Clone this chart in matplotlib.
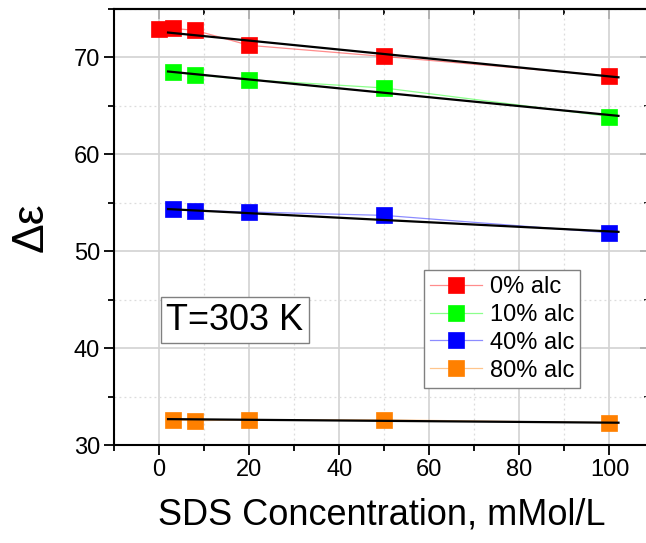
import matplotlib.pyplot as plt
from matplotlib.ticker import MultipleLocator

# =========================
# DATA
# =========================
sds_conc = [0, 3, 8, 20, 50, 100]

alc_0 = [72.9, 73.0, 72.8, 71.25, 70.1, 68.1]
alc_10 = [None, 68.5, 68.2, 67.7, 66.85, 63.9]
alc_40 = [None, 54.35, 54.2, 54.05, 53.7, 51.9]
alc_80 = [None, 32.6, 32.5, 32.6, 32.6, 32.3]

# linear fit lines (end points)
fit_x = [2, 102]
fit_0 = [72.57, 67.95]
fit_10 = [68.55, 63.97]
fit_40 = [54.35, 52.0]
fit_80 = [32.67, 32.3]

labels = ["0% alc", "10% alc", "40% alc", "80% alc"]
colors = ["#ff0000", "#00ff00", "#0000ff", "#ff8000"]

plt.rcParams['font.family'] = ['Liberation Sans', 'DejaVu Sans']

# =========================
# FIGURE
# =========================
fig = plt.figure(figsize=(6.46, 5.43), dpi=100)
ax = fig.add_axes([114 / 646, 98 / 543, 536 / 646, 436 / 543])

series = [alc_0, alc_10, alc_40, alc_80]
fits = [fit_0, fit_10, fit_40, fit_80]

for vals, fit, lab, col in zip(series, fits, labels, colors):
    xs = [x for x, v in zip(sds_conc, vals) if v is not None]
    ys = [v for v in vals if v is not None]
    rgb = plt.matplotlib.colors.to_rgb(col)
    ax.plot(xs, ys, color=rgb + (0.45,), lw=0.9, marker='s', markersize=11.3,
            markerfacecolor=col, markeredgecolor=col, markeredgewidth=0.5,
            label=lab, zorder=3)
    ax.plot(fit_x, fit, color='black', lw=1.6, zorder=4)

ax.set_xlim(-10, 109)
ax.set_ylim(30, 75)

ax.xaxis.set_major_locator(MultipleLocator(20))
ax.xaxis.set_minor_locator(MultipleLocator(10))
ax.yaxis.set_major_locator(MultipleLocator(10))
ax.yaxis.set_minor_locator(MultipleLocator(5))

ax.grid(True, which='major', color='#d2d2d2', lw=1.2, zorder=0)
ax.grid(True, which='minor', color='#dcdcdc', lw=0.9, ls=(0, (1.5, 2.5)), zorder=0)
ax.set_axisbelow(True)

for sp in ax.spines.values():
    sp.set_linewidth(1.5)

ax.tick_params(which='both', direction='out', top=False, right=False,
               width=1.3, labelsize=17, pad=3)
ax.tick_params(which='major', length=7)
ax.tick_params(which='minor', length=4)

# inward ticks on top and right
ax2 = ax.secondary_xaxis('top')
ax2.xaxis.set_major_locator(MultipleLocator(20))
ax2.xaxis.set_minor_locator(MultipleLocator(10))
ax2.tick_params(which='both', direction='in', width=1.3, labeltop=False)
ax2.tick_params(which='major', length=7)
ax2.tick_params(which='minor', length=4)
ax2.spines['top'].set_linewidth(1.5)

ax3 = ax.secondary_yaxis('right')
ax3.yaxis.set_major_locator(MultipleLocator(10))
ax3.yaxis.set_minor_locator(MultipleLocator(5))
ax3.tick_params(which='both', direction='in', width=1.3, labelright=False)
ax3.tick_params(which='major', length=7)
ax3.tick_params(which='minor', length=4)

ax.set_xlabel("SDS Concentration, mMol/L", fontsize=26, labelpad=12)
ax.set_ylabel("\u0394\u03b5", fontsize=32, labelpad=16)

leg = ax.legend(loc='upper left', bbox_to_anchor=(424 / 646, 1 - 270 / 543),
                bbox_transform=fig.transFigure, fontsize=17, frameon=True,
                fancybox=False, edgecolor='#808080', framealpha=1,
                borderaxespad=0, borderpad=0.25, handlelength=2.2,
                handletextpad=0.35, labelspacing=0.25)
leg.get_frame().set_linewidth(1.0)

fig.text(235 / 646, 1 - 320 / 543, "T=303 K", fontsize=26, ha='center', va='center',
         bbox=dict(boxstyle='square,pad=0.15', fc='white', ec='#808080', lw=1.0))

fig.savefig("out.png", dpi=100)
